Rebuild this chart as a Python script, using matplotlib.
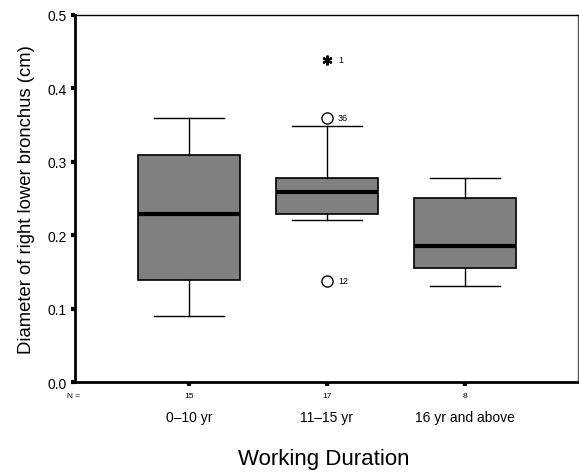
import matplotlib
matplotlib.use("Agg")
import matplotlib.pyplot as plt

plt.rcParams['font.family'] = ['Liberation Sans', 'DejaVu Sans']

groups = ['0\u201310 yr', '11\u201315 yr', '16 yr and above']
counts = [15, 17, 8]
whisker_low = [0.09, 0.221, 0.131]
q1 = [0.139, 0.229, 0.155]
median = [0.229, 0.259, 0.185]
q3 = [0.309, 0.278, 0.251]
whisker_high = [0.36, 0.349, 0.278]

# outliers (group index, value, case label)
outlier_group = [1, 1]
outlier_value = [0.36, 0.138]
outlier_case = ['36', '12']
extreme_group = [1]
extreme_value = [0.439]
extreme_case = ['1']

fig = plt.figure(figsize=(5.79, 4.77), dpi=100)
ax = fig.add_axes([0.1295, 0.197, 0.8685, 0.7695])

stats = []
for i in range(len(groups)):
    stats.append({'whislo': whisker_low[i], 'q1': q1[i], 'med': median[i],
                  'q3': q3[i], 'whishi': whisker_high[i], 'fliers': []})

positions = list(range(1, len(groups) + 1))
ax.bxp(stats, positions=positions, widths=0.74, capwidths=0.51,
       patch_artist=True, showfliers=False,
       boxprops=dict(facecolor='#808080', edgecolor='black', linewidth=1.2),
       medianprops=dict(color='black', linewidth=3, solid_capstyle='butt'),
       whiskerprops=dict(color='black', linewidth=1),
       capprops=dict(color='black', linewidth=1))

for g, v, c in zip(outlier_group, outlier_value, outlier_case):
    ax.plot(positions[g], v, 'o', mfc='white', mec='black', ms=8, mew=1)
    ax.text(positions[g] + 0.08, v, c, fontsize=6.5, va='center')
for g, v, c in zip(extreme_group, extreme_value, extreme_case):
    ax.plot(positions[g], v, marker=(6, 2, 0), color='black', ms=7, mew=1.6)
    ax.text(positions[g] + 0.08, v, c, fontsize=6.5, va='center')

ax.set_xlim(0.174, 3.82)
ax.set_ylim(0, 0.5)
ax.set_yticks([0.0, 0.1, 0.2, 0.3, 0.4, 0.5])
ax.set_yticklabels(['0.0', '0.1', '0.2', '0.3', '0.4', '0.5'], fontsize=10)
ax.set_xticks(positions)
ax.set_xticklabels([str(n) for n in counts], fontsize=6)
ax.tick_params(axis='both', direction='out', length=3, width=3, pad=4)
ax.tick_params(axis='y', pad=3)

for i, g in enumerate(groups):
    ax.text(positions[i], -0.047, g, fontsize=10, ha='center', va='center',
            transform=ax.transData, clip_on=False)
ax.text(-0.003, -0.019, 'N =', fontsize=6, ha='center', va='center',
        transform=ax.get_yaxis_transform(), clip_on=False)

ax.spines['left'].set_linewidth(2)
ax.spines['bottom'].set_linewidth(2)
ax.spines['top'].set_linewidth(1)
ax.spines['right'].set_linewidth(1)
ax.spines['right'].set_color('#555555')

ax.set_ylabel('Diameter of right lower bronchus (cm)', fontsize=13.3, labelpad=9)
fig.text(0.56, 0.036, 'Working Duration', fontsize=16, ha='center', va='center')

fig.savefig('out.png', dpi=100)
